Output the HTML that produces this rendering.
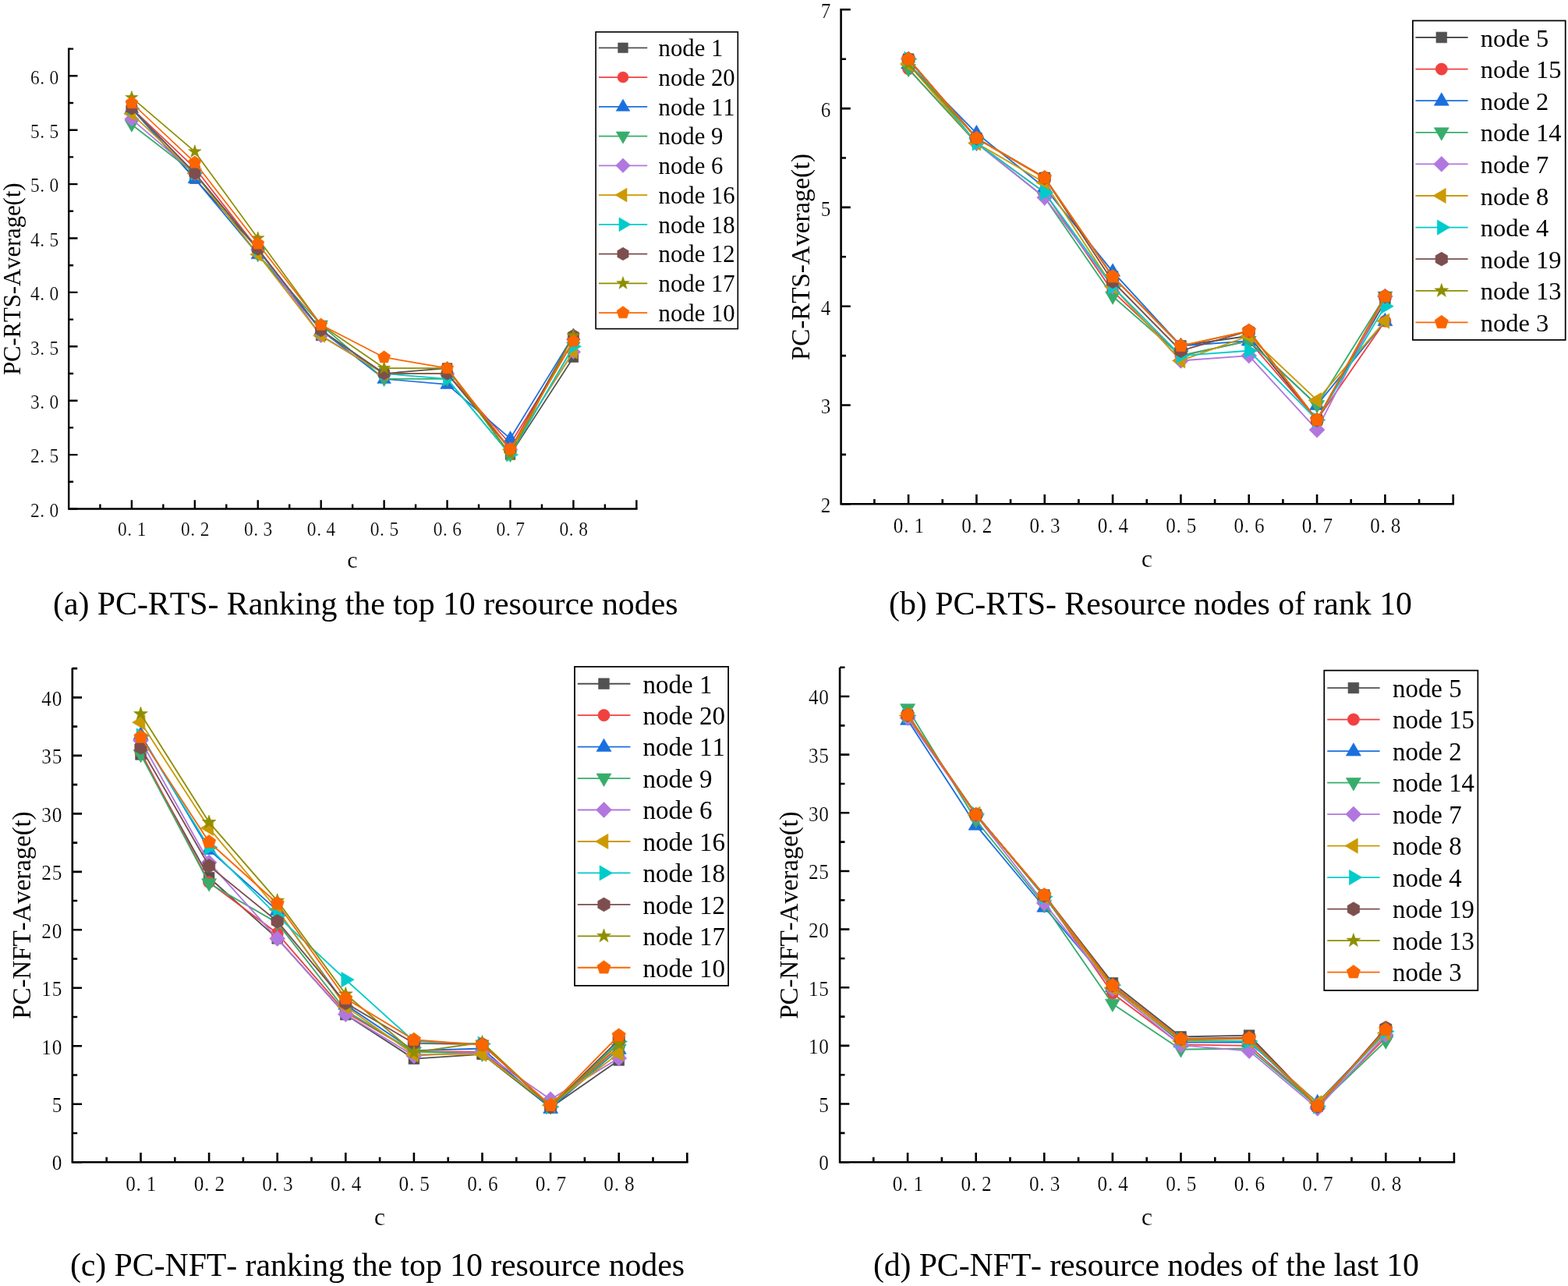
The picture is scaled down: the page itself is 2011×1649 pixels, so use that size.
<!DOCTYPE html>
<html lang="en">
<head>
<meta charset="utf-8">
<title>PC-RTS / PC-NFT average per resource node</title>
<style>
html,body{margin:0;padding:0;background:#fff;}
body{width:2011px;height:1649px;overflow:hidden;}
svg{display:block;}
text{font-family:"Liberation Serif","Times New Roman",serif;fill:#000;font-kerning:none;}
.tk{fill:#000;stroke:#fff;stroke-width:0.22px;}
</style>
</head>
<body>
<svg xmlns="http://www.w3.org/2000/svg" width="2011" height="1649" viewBox="0 0 2011 1649">
<rect width="2011" height="1649" fill="#fff"/>
<g id="panel-a">
<g fill="#515151" stroke="#515151" stroke-width="0.6" stroke-linejoin="round">
<polyline points="168.9,138.94 249.83,229.16 330.76,319.38 411.69,430.42 492.62,479 573.55,472.06 654.48,583.1 735.41,458.18" fill="none" stroke-width="1.71"/>
<rect x="162.57" y="132.61" width="12.65" height="12.65"/>
<rect x="243.5" y="222.83" width="12.65" height="12.65"/>
<rect x="324.43" y="313.05" width="12.65" height="12.65"/>
<rect x="405.36" y="424.09" width="12.65" height="12.65"/>
<rect x="486.29" y="472.67" width="12.65" height="12.65"/>
<rect x="567.22" y="465.73" width="12.65" height="12.65"/>
<rect x="648.15" y="576.77" width="12.65" height="12.65"/>
<rect x="729.08" y="451.85" width="12.65" height="12.65"/>
</g>
<g fill="#F14040" stroke="#F14040" stroke-width="0.6" stroke-linejoin="round">
<polyline points="168.9,138.94 249.83,215.28 330.76,319.38 411.69,423.48 492.62,479 573.55,479 654.48,569.22 735.41,437.36" fill="none" stroke-width="1.71"/>
<circle cx="168.9" cy="138.94" r="7.02"/>
<circle cx="249.83" cy="215.28" r="7.02"/>
<circle cx="330.76" cy="319.38" r="7.02"/>
<circle cx="411.69" cy="423.48" r="7.02"/>
<circle cx="492.62" cy="479" r="7.02"/>
<circle cx="573.55" cy="479" r="7.02"/>
<circle cx="654.48" cy="569.22" r="7.02"/>
<circle cx="735.41" cy="437.36" r="7.02"/>
</g>
<g fill="#1A6FDF" stroke="#1A6FDF" stroke-width="0.6" stroke-linejoin="round">
<polyline points="168.9,138.94 249.83,229.16 330.76,326.32 411.69,423.48 492.62,485.94 573.55,492.88 654.48,562.28 735.41,430.42" fill="none" stroke-width="1.71"/>
<polygon points="168.9,129.34 177.67,144.48 160.13,144.48"/>
<polygon points="249.83,219.56 258.6,234.7 241.06,234.7"/>
<polygon points="330.76,316.72 339.53,331.86 321.99,331.86"/>
<polygon points="411.69,413.88 420.46,429.02 402.92,429.02"/>
<polygon points="492.62,476.34 501.39,491.48 483.85,491.48"/>
<polygon points="573.55,483.28 582.32,498.42 564.78,498.42"/>
<polygon points="654.48,552.68 663.25,567.82 645.71,567.82"/>
<polygon points="735.41,420.82 744.18,435.96 726.64,435.96"/>
</g>
<g fill="#37AD6B" stroke="#37AD6B" stroke-width="0.6" stroke-linejoin="round">
<polyline points="168.9,159.76 249.83,222.22 330.76,326.32 411.69,416.54 492.62,485.94 573.55,485.94 654.48,583.1 735.41,444.3" fill="none" stroke-width="1.71"/>
<polygon points="168.9,169.36 177.67,154.22 160.13,154.22"/>
<polygon points="249.83,231.82 258.6,216.68 241.06,216.68"/>
<polygon points="330.76,335.92 339.53,320.78 321.99,320.78"/>
<polygon points="411.69,426.14 420.46,411 402.92,411"/>
<polygon points="492.62,495.54 501.39,480.4 483.85,480.4"/>
<polygon points="573.55,495.54 582.32,480.4 564.78,480.4"/>
<polygon points="654.48,592.7 663.25,577.56 645.71,577.56"/>
<polygon points="735.41,453.9 744.18,438.76 726.64,438.76"/>
</g>
<g fill="#B177DE" stroke="#B177DE" stroke-width="0.6" stroke-linejoin="round">
<polyline points="168.9,152.82 249.83,222.22 330.76,319.38 411.69,430.42 492.62,479 573.55,479 654.48,576.16 735.41,451.24" fill="none" stroke-width="1.71"/>
<polygon points="168.9,143.58 178.13,152.82 168.9,162.06 159.67,152.82"/>
<polygon points="249.83,212.99 259.06,222.22 249.83,231.46 240.6,222.22"/>
<polygon points="330.76,310.14 340,319.38 330.76,328.61 321.52,319.38"/>
<polygon points="411.69,421.18 420.93,430.42 411.69,439.65 402.46,430.42"/>
<polygon points="492.62,469.76 501.86,479 492.62,488.24 483.38,479"/>
<polygon points="573.55,469.76 582.79,479 573.55,488.24 564.32,479"/>
<polygon points="654.48,566.93 663.72,576.16 654.48,585.4 645.25,576.16"/>
<polygon points="735.41,442 744.64,451.24 735.41,460.47 726.17,451.24"/>
</g>
<g fill="#CC9900" stroke="#CC9900" stroke-width="0.6" stroke-linejoin="round">
<polyline points="168.9,145.88 249.83,222.22 330.76,326.32 411.69,430.42 492.62,479 573.55,479 654.48,576.16 735.41,451.24" fill="none" stroke-width="1.71"/>
<polygon points="158.83,145.88 173.89,137.01 173.89,154.75"/>
<polygon points="239.76,222.22 254.82,213.35 254.82,231.09"/>
<polygon points="320.69,326.32 335.75,317.45 335.75,335.19"/>
<polygon points="401.62,430.42 416.68,421.55 416.68,439.29"/>
<polygon points="482.55,479 497.61,470.13 497.61,487.87"/>
<polygon points="563.48,479 578.54,470.13 578.54,487.87"/>
<polygon points="644.41,576.16 659.47,567.29 659.47,585.03"/>
<polygon points="725.34,451.24 740.4,442.37 740.4,460.11"/>
</g>
<g fill="#00CBCC" stroke="#00CBCC" stroke-width="0.6" stroke-linejoin="round">
<polyline points="168.9,138.94 249.83,222.22 330.76,319.38 411.69,423.48 492.62,479 573.55,485.94 654.48,583.1 735.41,444.3" fill="none" stroke-width="1.71"/>
<polygon points="178.97,138.94 163.91,130.07 163.91,147.81"/>
<polygon points="259.9,222.22 244.84,213.35 244.84,231.09"/>
<polygon points="340.83,319.38 325.77,310.51 325.77,328.25"/>
<polygon points="421.76,423.48 406.7,414.61 406.7,432.35"/>
<polygon points="502.69,479 487.63,470.13 487.63,487.87"/>
<polygon points="583.62,485.94 568.56,477.07 568.56,494.81"/>
<polygon points="664.55,583.1 649.49,574.23 649.49,591.97"/>
<polygon points="745.48,444.3 730.42,435.43 730.42,453.17"/>
</g>
<g fill="#7D4E4E" stroke="#7D4E4E" stroke-width="0.6" stroke-linejoin="round">
<polyline points="168.9,138.94 249.83,222.22 330.76,319.38 411.69,423.48 492.62,479 573.55,479 654.48,576.16 735.41,430.42" fill="none" stroke-width="1.71"/>
<polygon points="168.9,130.72 176.02,134.83 176.02,143.05 168.9,147.16 161.78,143.05 161.78,134.83"/>
<polygon points="249.83,214 256.95,218.11 256.95,226.33 249.83,230.44 242.71,226.33 242.71,218.11"/>
<polygon points="330.76,311.16 337.88,315.27 337.88,323.49 330.76,327.6 323.64,323.49 323.64,315.27"/>
<polygon points="411.69,415.26 418.81,419.37 418.81,427.59 411.69,431.7 404.57,427.59 404.57,419.37"/>
<polygon points="492.62,470.78 499.74,474.89 499.74,483.11 492.62,487.22 485.5,483.11 485.5,474.89"/>
<polygon points="573.55,470.78 580.67,474.89 580.67,483.11 573.55,487.22 566.43,483.11 566.43,474.89"/>
<polygon points="654.48,567.94 661.6,572.05 661.6,580.27 654.48,584.38 647.36,580.27 647.36,572.05"/>
<polygon points="735.41,422.2 742.53,426.31 742.53,434.53 735.41,438.64 728.29,434.53 728.29,426.31"/>
</g>
<g fill="#8E8E00" stroke="#8E8E00" stroke-width="0.6" stroke-linejoin="round">
<polyline points="168.9,125.06 249.83,194.46 330.76,305.5 411.69,416.54 492.62,472.06 573.55,472.06 654.48,583.1 735.41,430.42" fill="none" stroke-width="1.71"/>
<polygon points="168.9,116.47 170.92,122.28 177.07,122.41 172.17,126.12 173.95,132.01 168.9,128.5 163.85,132.01 165.63,126.12 160.73,122.41 166.88,122.28"/>
<polygon points="249.83,185.87 251.85,191.68 258,191.81 253.1,195.52 254.88,201.41 249.83,197.9 244.78,201.41 246.56,195.52 241.66,191.81 247.81,191.68"/>
<polygon points="330.76,296.91 332.78,302.72 338.93,302.85 334.03,306.56 335.81,312.45 330.76,308.94 325.71,312.45 327.49,306.56 322.59,302.85 328.74,302.72"/>
<polygon points="411.69,407.95 413.71,413.76 419.86,413.89 414.96,417.6 416.74,423.49 411.69,419.98 406.64,423.49 408.42,417.6 403.52,413.89 409.67,413.76"/>
<polygon points="492.62,463.47 494.64,469.28 500.79,469.41 495.89,473.12 497.67,479.01 492.62,475.5 487.57,479.01 489.35,473.12 484.45,469.41 490.6,469.28"/>
<polygon points="573.55,463.47 575.57,469.28 581.72,469.41 576.82,473.12 578.6,479.01 573.55,475.5 568.5,479.01 570.28,473.12 565.38,469.41 571.53,469.28"/>
<polygon points="654.48,574.51 656.5,580.32 662.65,580.45 657.75,584.16 659.53,590.05 654.48,586.54 649.43,590.05 651.21,584.16 646.31,580.45 652.46,580.32"/>
<polygon points="735.41,421.83 737.43,427.64 743.58,427.77 738.68,431.48 740.46,437.37 735.41,433.86 730.36,437.37 732.14,431.48 727.24,427.77 733.39,427.64"/>
</g>
<g fill="#FB6501" stroke="#FB6501" stroke-width="0.6" stroke-linejoin="round">
<polyline points="168.9,132 249.83,208.34 330.76,312.44 411.69,416.54 492.62,458.18 573.55,472.06 654.48,576.16 735.41,437.36" fill="none" stroke-width="1.71"/>
<polygon points="168.9,123.6 176.89,129.4 173.84,138.8 163.96,138.8 160.91,129.4"/>
<polygon points="249.83,199.94 257.82,205.74 254.77,215.14 244.89,215.14 241.84,205.74"/>
<polygon points="330.76,304.04 338.75,309.84 335.7,319.24 325.82,319.24 322.77,309.84"/>
<polygon points="411.69,408.14 419.68,413.94 416.63,423.34 406.75,423.34 403.7,413.94"/>
<polygon points="492.62,449.78 500.61,455.58 497.56,464.98 487.68,464.98 484.63,455.58"/>
<polygon points="573.55,463.66 581.54,469.46 578.49,478.86 568.61,478.86 565.56,469.46"/>
<polygon points="654.48,567.76 662.47,573.56 659.42,582.96 649.54,582.96 646.49,573.56"/>
<polygon points="735.41,428.96 743.4,434.76 740.35,444.16 730.47,444.16 727.42,434.76"/>
</g>
<g stroke="#000" stroke-width="2.4" fill="none" stroke-linecap="butt">
<path d="M88.2 61.5V652.5H817.54"/>
<path d="M168.9 652.5v-11.3M249.83 652.5v-11.3M330.76 652.5v-11.3M411.69 652.5v-11.3M492.62 652.5v-11.3M573.55 652.5v-11.3M654.48 652.5v-11.3M735.41 652.5v-11.3M816.34 652.5v-11.3M128.44 652.5v-5.9M209.37 652.5v-5.9M290.3 652.5v-5.9M371.23 652.5v-5.9M452.15 652.5v-5.9M533.09 652.5v-5.9M614.01 652.5v-5.9M694.95 652.5v-5.9M775.88 652.5v-5.9M88.2 652.5h11.3M88.2 583.1h11.3M88.2 513.7h11.3M88.2 444.3h11.3M88.2 374.9h11.3M88.2 305.5h11.3M88.2 236.1h11.3M88.2 166.7h11.3M88.2 97.3h11.3M88.2 617.8h5.9M88.2 548.4h5.9M88.2 479h5.9M88.2 409.6h5.9M88.2 340.2h5.9M88.2 270.8h5.9M88.2 201.4h5.9M88.2 132h5.9M88.2 62.6h5.9"/>
</g>
<text class="tk" transform="scale(0.9 1)" x="167.81 181.53 195.25" y="687" font-size="26">0.1</text>
<text class="tk" transform="scale(0.9 1)" x="257.73 271.45 285.17" y="687" font-size="26">0.2</text>
<text class="tk" transform="scale(0.9 1)" x="347.65 361.37 375.09" y="687" font-size="26">0.3</text>
<text class="tk" transform="scale(0.9 1)" x="437.57 451.29 465.02" y="687" font-size="26">0.4</text>
<text class="tk" transform="scale(0.9 1)" x="527.49 541.22 554.94" y="687" font-size="26">0.5</text>
<text class="tk" transform="scale(0.9 1)" x="617.42 631.14 644.86" y="687" font-size="26">0.6</text>
<text class="tk" transform="scale(0.9 1)" x="707.34 721.06 734.78" y="687" font-size="26">0.7</text>
<text class="tk" transform="scale(0.9 1)" x="797.26 810.98 824.71" y="687" font-size="26">0.8</text>
<text class="tk" transform="scale(0.9 1)" x="43.22 56.94 70.67" y="662.8" font-size="26">2.0</text>
<text class="tk" transform="scale(0.9 1)" x="43.22 56.94 70.67" y="593.4" font-size="26">2.5</text>
<text class="tk" transform="scale(0.9 1)" x="43.22 56.94 70.67" y="524" font-size="26">3.0</text>
<text class="tk" transform="scale(0.9 1)" x="43.22 56.94 70.67" y="454.6" font-size="26">3.5</text>
<text class="tk" transform="scale(0.9 1)" x="43.22 56.94 70.67" y="385.2" font-size="26">4.0</text>
<text class="tk" transform="scale(0.9 1)" x="43.22 56.94 70.67" y="315.8" font-size="26">4.5</text>
<text class="tk" transform="scale(0.9 1)" x="43.22 56.94 70.67" y="246.4" font-size="26">5.0</text>
<text class="tk" transform="scale(0.9 1)" x="43.22 56.94 70.67" y="177" font-size="26">5.5</text>
<text class="tk" transform="scale(0.9 1)" x="43.22 56.94 70.67" y="107.6" font-size="26">6.0</text>
<text class="tk" x="452" y="727.6" font-size="30" text-anchor="middle">c</text>
<text class="tt" transform="translate(26 357.8) rotate(-90)" x="-123.25" font-size="30.9" textLength="246.5" lengthAdjust="spacing">PC-RTS-Average(t)</text>
<rect x="764.1" y="41" width="182.2" height="380.6" fill="#fff" stroke="#000" stroke-width="1.62"/>
<g fill="#515151" stroke="#515151" stroke-width="0.6" stroke-linejoin="round">
<line x1="768" y1="61.3" x2="830.2" y2="61.3" stroke-width="1.71"/>
<rect x="792.67" y="54.97" width="12.65" height="12.65"/>
</g>
<text class="tt" x="844.6" y="72.1" font-size="30.7">node 1</text>
<g fill="#F14040" stroke="#F14040" stroke-width="0.6" stroke-linejoin="round">
<line x1="768" y1="99.05" x2="830.2" y2="99.05" stroke-width="1.71"/>
<circle cx="799" cy="99.05" r="7.02"/>
</g>
<text class="tt" x="844.6" y="109.85" font-size="30.7">node 20</text>
<g fill="#1A6FDF" stroke="#1A6FDF" stroke-width="0.6" stroke-linejoin="round">
<line x1="768" y1="136.8" x2="830.2" y2="136.8" stroke-width="1.71"/>
<polygon points="799,127.2 807.77,142.34 790.23,142.34"/>
</g>
<text class="tt" x="844.6" y="147.6" font-size="30.7">node 11</text>
<g fill="#37AD6B" stroke="#37AD6B" stroke-width="0.6" stroke-linejoin="round">
<line x1="768" y1="174.55" x2="830.2" y2="174.55" stroke-width="1.71"/>
<polygon points="799,184.15 807.77,169.01 790.23,169.01"/>
</g>
<text class="tt" x="844.6" y="185.35" font-size="30.7">node 9</text>
<g fill="#B177DE" stroke="#B177DE" stroke-width="0.6" stroke-linejoin="round">
<line x1="768" y1="212.3" x2="830.2" y2="212.3" stroke-width="1.71"/>
<polygon points="799,203.06 808.24,212.3 799,221.54 789.76,212.3"/>
</g>
<text class="tt" x="844.6" y="223.1" font-size="30.7">node 6</text>
<g fill="#CC9900" stroke="#CC9900" stroke-width="0.6" stroke-linejoin="round">
<line x1="768" y1="250.05" x2="830.2" y2="250.05" stroke-width="1.71"/>
<polygon points="788.93,250.05 803.99,241.18 803.99,258.92"/>
</g>
<text class="tt" x="844.6" y="260.85" font-size="30.7">node 16</text>
<g fill="#00CBCC" stroke="#00CBCC" stroke-width="0.6" stroke-linejoin="round">
<line x1="768" y1="287.8" x2="830.2" y2="287.8" stroke-width="1.71"/>
<polygon points="809.07,287.8 794.01,278.93 794.01,296.67"/>
</g>
<text class="tt" x="844.6" y="298.6" font-size="30.7">node 18</text>
<g fill="#7D4E4E" stroke="#7D4E4E" stroke-width="0.6" stroke-linejoin="round">
<line x1="768" y1="325.55" x2="830.2" y2="325.55" stroke-width="1.71"/>
<polygon points="799,317.33 806.12,321.44 806.12,329.66 799,333.77 791.88,329.66 791.88,321.44"/>
</g>
<text class="tt" x="844.6" y="336.35" font-size="30.7">node 12</text>
<g fill="#8E8E00" stroke="#8E8E00" stroke-width="0.6" stroke-linejoin="round">
<line x1="768" y1="363.3" x2="830.2" y2="363.3" stroke-width="1.71"/>
<polygon points="799,354.71 801.02,360.52 807.17,360.65 802.27,364.36 804.05,370.25 799,366.74 793.95,370.25 795.73,364.36 790.83,360.65 796.98,360.52"/>
</g>
<text class="tt" x="844.6" y="374.1" font-size="30.7">node 17</text>
<g fill="#FB6501" stroke="#FB6501" stroke-width="0.6" stroke-linejoin="round">
<line x1="768" y1="401.05" x2="830.2" y2="401.05" stroke-width="1.71"/>
<polygon points="799,392.65 806.99,398.45 803.94,407.85 794.06,407.85 791.01,398.45"/>
</g>
<text class="tt" x="844.6" y="411.85" font-size="30.7">node 10</text>
<text class="tt" x="68" y="788" font-size="41.9" textLength="801.5" lengthAdjust="spacing">(a) PC-RTS- Ranking the top 10 resource nodes</text>
</g>
<g id="panel-b">
<g fill="#515151" stroke="#515151" stroke-width="0.65" stroke-linejoin="round">
<polyline points="1165.1,75.7 1252.43,177.14 1339.76,227.86 1427.09,354.66 1514.42,443.42 1601.75,430.74 1689.08,538.52 1776.41,386.36" fill="none" stroke-width="1.84"/>
<rect x="1158.27" y="68.87" width="13.65" height="13.65"/>
<rect x="1245.6" y="170.31" width="13.65" height="13.65"/>
<rect x="1332.93" y="221.03" width="13.65" height="13.65"/>
<rect x="1420.26" y="347.83" width="13.65" height="13.65"/>
<rect x="1507.59" y="436.59" width="13.65" height="13.65"/>
<rect x="1594.92" y="423.91" width="13.65" height="13.65"/>
<rect x="1682.25" y="531.69" width="13.65" height="13.65"/>
<rect x="1769.58" y="379.53" width="13.65" height="13.65"/>
</g>
<g fill="#F14040" stroke="#F14040" stroke-width="0.65" stroke-linejoin="round">
<polyline points="1165.1,88.38 1252.43,183.48 1339.76,246.88 1427.09,373.68 1514.42,456.1 1601.75,437.08 1689.08,538.52 1776.41,411.72" fill="none" stroke-width="1.84"/>
<circle cx="1165.1" cy="88.38" r="7.57"/>
<circle cx="1252.43" cy="183.48" r="7.57"/>
<circle cx="1339.76" cy="246.88" r="7.57"/>
<circle cx="1427.09" cy="373.68" r="7.57"/>
<circle cx="1514.42" cy="456.1" r="7.57"/>
<circle cx="1601.75" cy="437.08" r="7.57"/>
<circle cx="1689.08" cy="538.52" r="7.57"/>
<circle cx="1776.41" cy="411.72" r="7.57"/>
</g>
<g fill="#1A6FDF" stroke="#1A6FDF" stroke-width="0.65" stroke-linejoin="round">
<polyline points="1165.1,82.04 1252.43,170.8 1339.76,240.54 1427.09,348.32 1514.42,443.42 1601.75,437.08 1689.08,519.5 1776.41,411.72" fill="none" stroke-width="1.84"/>
<polygon points="1165.1,71.68 1174.57,88.02 1155.63,88.02"/>
<polygon points="1252.43,160.44 1261.9,176.78 1242.96,176.78"/>
<polygon points="1339.76,230.18 1349.23,246.52 1330.29,246.52"/>
<polygon points="1427.09,337.96 1436.56,354.3 1417.62,354.3"/>
<polygon points="1514.42,433.06 1523.89,449.4 1504.95,449.4"/>
<polygon points="1601.75,426.72 1611.22,443.06 1592.28,443.06"/>
<polygon points="1689.08,509.14 1698.55,525.48 1679.61,525.48"/>
<polygon points="1776.41,401.36 1785.88,417.7 1766.94,417.7"/>
</g>
<g fill="#37AD6B" stroke="#37AD6B" stroke-width="0.65" stroke-linejoin="round">
<polyline points="1165.1,88.38 1252.43,183.48 1339.76,253.22 1427.09,380.02 1514.42,456.1 1601.75,437.08 1689.08,519.5 1776.41,380.02" fill="none" stroke-width="1.84"/>
<polygon points="1165.1,98.74 1174.57,82.4 1155.63,82.4"/>
<polygon points="1252.43,193.84 1261.9,177.5 1242.96,177.5"/>
<polygon points="1339.76,263.58 1349.23,247.24 1330.29,247.24"/>
<polygon points="1427.09,390.38 1436.56,374.04 1417.62,374.04"/>
<polygon points="1514.42,466.46 1523.89,450.12 1504.95,450.12"/>
<polygon points="1601.75,447.44 1611.22,431.1 1592.28,431.1"/>
<polygon points="1689.08,529.86 1698.55,513.52 1679.61,513.52"/>
<polygon points="1776.41,390.38 1785.88,374.04 1766.94,374.04"/>
</g>
<g fill="#B177DE" stroke="#B177DE" stroke-width="0.65" stroke-linejoin="round">
<polyline points="1165.1,75.7 1252.43,183.48 1339.76,253.22 1427.09,367.34 1514.42,462.44 1601.75,456.1 1689.08,551.2 1776.41,380.02" fill="none" stroke-width="1.84"/>
<polygon points="1165.1,65.73 1175.07,75.7 1165.1,85.67 1155.13,75.7"/>
<polygon points="1252.43,173.51 1262.4,183.48 1252.43,193.45 1242.46,183.48"/>
<polygon points="1339.76,243.25 1349.73,253.22 1339.76,263.19 1329.79,253.22"/>
<polygon points="1427.09,357.37 1437.06,367.34 1427.09,377.31 1417.12,367.34"/>
<polygon points="1514.42,452.47 1524.39,462.44 1514.42,472.41 1504.45,462.44"/>
<polygon points="1601.75,446.13 1611.72,456.1 1601.75,466.07 1591.78,456.1"/>
<polygon points="1689.08,541.23 1699.05,551.2 1689.08,561.17 1679.11,551.2"/>
<polygon points="1776.41,370.05 1786.38,380.02 1776.41,389.99 1766.44,380.02"/>
</g>
<g fill="#CC9900" stroke="#CC9900" stroke-width="0.65" stroke-linejoin="round">
<polyline points="1165.1,82.04 1252.43,183.48 1339.76,234.2 1427.09,367.34 1514.42,462.44 1601.75,430.74 1689.08,513.16 1776.41,411.72" fill="none" stroke-width="1.84"/>
<polygon points="1154.24,82.04 1170.48,72.47 1170.48,91.61"/>
<polygon points="1241.57,183.48 1257.81,173.91 1257.81,193.05"/>
<polygon points="1328.9,234.2 1345.14,224.63 1345.14,243.77"/>
<polygon points="1416.23,367.34 1432.47,357.77 1432.47,376.91"/>
<polygon points="1503.56,462.44 1519.8,452.87 1519.8,472.01"/>
<polygon points="1590.89,430.74 1607.13,421.17 1607.13,440.31"/>
<polygon points="1678.22,513.16 1694.46,503.59 1694.46,522.73"/>
<polygon points="1765.55,411.72 1781.79,402.15 1781.79,421.29"/>
</g>
<g fill="#00CBCC" stroke="#00CBCC" stroke-width="0.65" stroke-linejoin="round">
<polyline points="1165.1,75.7 1252.43,183.48 1339.76,246.88 1427.09,367.34 1514.42,456.1 1601.75,449.76 1689.08,538.52 1776.41,392.7" fill="none" stroke-width="1.84"/>
<polygon points="1175.96,75.7 1159.72,66.13 1159.72,85.27"/>
<polygon points="1263.29,183.48 1247.05,173.91 1247.05,193.05"/>
<polygon points="1350.62,246.88 1334.38,237.31 1334.38,256.45"/>
<polygon points="1437.95,367.34 1421.71,357.77 1421.71,376.91"/>
<polygon points="1525.28,456.1 1509.04,446.53 1509.04,465.67"/>
<polygon points="1612.61,449.76 1596.37,440.19 1596.37,459.33"/>
<polygon points="1699.94,538.52 1683.7,528.95 1683.7,548.09"/>
<polygon points="1787.27,392.7 1771.03,383.13 1771.03,402.27"/>
</g>
<g fill="#7D4E4E" stroke="#7D4E4E" stroke-width="0.65" stroke-linejoin="round">
<polyline points="1165.1,75.7 1252.43,177.14 1339.76,227.86 1427.09,361 1514.42,449.76 1601.75,424.4 1689.08,538.52 1776.41,380.02" fill="none" stroke-width="1.84"/>
<polygon points="1165.1,66.83 1172.78,71.27 1172.78,80.13 1165.1,84.57 1157.42,80.13 1157.42,71.27"/>
<polygon points="1252.43,168.27 1260.11,172.71 1260.11,181.57 1252.43,186.01 1244.75,181.57 1244.75,172.71"/>
<polygon points="1339.76,218.99 1347.44,223.43 1347.44,232.29 1339.76,236.73 1332.08,232.29 1332.08,223.43"/>
<polygon points="1427.09,352.13 1434.77,356.57 1434.77,365.43 1427.09,369.87 1419.41,365.43 1419.41,356.57"/>
<polygon points="1514.42,440.89 1522.1,445.33 1522.1,454.19 1514.42,458.63 1506.74,454.19 1506.74,445.33"/>
<polygon points="1601.75,415.53 1609.43,419.97 1609.43,428.83 1601.75,433.27 1594.07,428.83 1594.07,419.97"/>
<polygon points="1689.08,529.65 1696.76,534.09 1696.76,542.95 1689.08,547.39 1681.4,542.95 1681.4,534.09"/>
<polygon points="1776.41,371.15 1784.09,375.59 1784.09,384.45 1776.41,388.89 1768.73,384.45 1768.73,375.59"/>
</g>
<g fill="#8E8E00" stroke="#8E8E00" stroke-width="0.65" stroke-linejoin="round">
<polyline points="1165.1,82.04 1252.43,177.14 1339.76,227.86 1427.09,354.66 1514.42,443.42 1601.75,424.4 1689.08,538.52 1776.41,380.02" fill="none" stroke-width="1.84"/>
<polygon points="1165.1,72.77 1167.28,79.04 1173.91,79.18 1168.63,83.19 1170.55,89.54 1165.1,85.75 1159.65,89.54 1161.57,83.19 1156.29,79.18 1162.92,79.04"/>
<polygon points="1252.43,167.87 1254.61,174.14 1261.24,174.28 1255.96,178.29 1257.88,184.64 1252.43,180.85 1246.98,184.64 1248.9,178.29 1243.62,174.28 1250.25,174.14"/>
<polygon points="1339.76,218.59 1341.94,224.86 1348.57,225 1343.29,229.01 1345.21,235.36 1339.76,231.57 1334.31,235.36 1336.23,229.01 1330.95,225 1337.58,224.86"/>
<polygon points="1427.09,345.39 1429.27,351.66 1435.9,351.8 1430.62,355.81 1432.54,362.16 1427.09,358.37 1421.64,362.16 1423.56,355.81 1418.28,351.8 1424.91,351.66"/>
<polygon points="1514.42,434.15 1516.6,440.42 1523.23,440.56 1517.95,444.57 1519.87,450.92 1514.42,447.13 1508.97,450.92 1510.89,444.57 1505.61,440.56 1512.24,440.42"/>
<polygon points="1601.75,415.13 1603.93,421.4 1610.56,421.54 1605.28,425.55 1607.2,431.9 1601.75,428.11 1596.3,431.9 1598.22,425.55 1592.94,421.54 1599.57,421.4"/>
<polygon points="1689.08,529.25 1691.26,535.52 1697.89,535.66 1692.61,539.67 1694.53,546.02 1689.08,542.23 1683.63,546.02 1685.55,539.67 1680.27,535.66 1686.9,535.52"/>
<polygon points="1776.41,370.75 1778.59,377.02 1785.22,377.16 1779.94,381.17 1781.86,387.52 1776.41,383.73 1770.96,387.52 1772.88,381.17 1767.6,377.16 1774.23,377.02"/>
</g>
<g fill="#FB6501" stroke="#FB6501" stroke-width="0.65" stroke-linejoin="round">
<polyline points="1165.1,75.7 1252.43,177.14 1339.76,227.86 1427.09,354.66 1514.42,443.42 1601.75,424.4 1689.08,538.52 1776.41,380.02" fill="none" stroke-width="1.84"/>
<polygon points="1165.1,66.63 1173.73,72.9 1170.43,83.04 1159.77,83.04 1156.47,72.9"/>
<polygon points="1252.43,168.07 1261.06,174.34 1257.76,184.48 1247.1,184.48 1243.8,174.34"/>
<polygon points="1339.76,218.79 1348.39,225.06 1345.09,235.2 1334.43,235.2 1331.13,225.06"/>
<polygon points="1427.09,345.59 1435.72,351.86 1432.42,362 1421.76,362 1418.46,351.86"/>
<polygon points="1514.42,434.35 1523.05,440.62 1519.75,450.76 1509.09,450.76 1505.79,440.62"/>
<polygon points="1601.75,415.33 1610.38,421.6 1607.08,431.74 1596.42,431.74 1593.12,421.6"/>
<polygon points="1689.08,529.45 1697.71,535.72 1694.41,545.86 1683.75,545.86 1680.45,535.72"/>
<polygon points="1776.41,370.95 1785.04,377.22 1781.74,387.36 1771.08,387.36 1767.78,377.22"/>
</g>
<g stroke="#000" stroke-width="2.59" fill="none" stroke-linecap="butt">
<path d="M1078.6 11.1V646.3H1865.04"/>
<path d="M1165.1 646.3v-12.19M1252.43 646.3v-12.19M1339.76 646.3v-12.19M1427.09 646.3v-12.19M1514.42 646.3v-12.19M1601.75 646.3v-12.19M1689.08 646.3v-12.19M1776.41 646.3v-12.19M1863.74 646.3v-12.19M1121.43 646.3v-6.37M1208.76 646.3v-6.37M1296.09 646.3v-6.37M1383.42 646.3v-6.37M1470.75 646.3v-6.37M1558.09 646.3v-6.37M1645.41 646.3v-6.37M1732.74 646.3v-6.37M1820.07 646.3v-6.37M1078.6 646.3h12.19M1078.6 519.5h12.19M1078.6 392.7h12.19M1078.6 265.9h12.19M1078.6 139.1h12.19M1078.6 12.3h12.19M1078.6 582.9h6.37M1078.6 456.1h6.37M1078.6 329.3h6.37M1078.6 202.5h6.37M1078.6 75.7h6.37"/>
</g>
<text class="tk" transform="scale(0.9 1)" x="1273.17 1287.94 1302.72" y="683.1" font-size="28">0.1</text>
<text class="tk" transform="scale(0.9 1)" x="1370.2 1384.98 1399.76" y="683.1" font-size="28">0.2</text>
<text class="tk" transform="scale(0.9 1)" x="1467.23 1482.01 1496.79" y="683.1" font-size="28">0.3</text>
<text class="tk" transform="scale(0.9 1)" x="1564.27 1579.04 1593.82" y="683.1" font-size="28">0.4</text>
<text class="tk" transform="scale(0.9 1)" x="1661.3 1676.08 1690.86" y="683.1" font-size="28">0.5</text>
<text class="tk" transform="scale(0.9 1)" x="1758.33 1773.11 1787.89" y="683.1" font-size="28">0.6</text>
<text class="tk" transform="scale(0.9 1)" x="1855.37 1870.14 1884.92" y="683.1" font-size="28">0.7</text>
<text class="tk" transform="scale(0.9 1)" x="1952.4 1967.18 1981.96" y="683.1" font-size="28">0.8</text>
<text class="tk" transform="scale(0.9 1)" x="1169.67" y="657.2" font-size="28">2</text>
<text class="tk" transform="scale(0.9 1)" x="1169.67" y="530.4" font-size="28">3</text>
<text class="tk" transform="scale(0.9 1)" x="1169.67" y="403.6" font-size="28">4</text>
<text class="tk" transform="scale(0.9 1)" x="1169.67" y="276.8" font-size="28">5</text>
<text class="tk" transform="scale(0.9 1)" x="1169.67" y="150" font-size="28">6</text>
<text class="tk" transform="scale(0.9 1)" x="1169.67" y="23.2" font-size="28">7</text>
<text class="tk" x="1471" y="727.1" font-size="32.4" text-anchor="middle">c</text>
<text class="tt" transform="translate(1038.2 329.5) rotate(-90)" x="-132.5" font-size="33.2" textLength="265" lengthAdjust="spacing">PC-RTS-Average(t)</text>
<rect x="1811.9" y="26.5" width="195.8" height="409.4" fill="#fff" stroke="#000" stroke-width="1.74"/>
<g fill="#515151" stroke="#515151" stroke-width="0.65" stroke-linejoin="round">
<line x1="1815.5" y1="48" x2="1882.6" y2="48" stroke-width="1.84"/>
<rect x="1841.97" y="41.17" width="13.65" height="13.65"/>
</g>
<text class="tt" x="1898.7" y="59.5" font-size="32.5">node 5</text>
<g fill="#F14040" stroke="#F14040" stroke-width="0.65" stroke-linejoin="round">
<line x1="1815.5" y1="88.6" x2="1882.6" y2="88.6" stroke-width="1.84"/>
<circle cx="1848.8" cy="88.6" r="7.57"/>
</g>
<text class="tt" x="1898.7" y="100.1" font-size="32.5">node 15</text>
<g fill="#1A6FDF" stroke="#1A6FDF" stroke-width="0.65" stroke-linejoin="round">
<line x1="1815.5" y1="129.2" x2="1882.6" y2="129.2" stroke-width="1.84"/>
<polygon points="1848.8,118.84 1858.27,135.18 1839.33,135.18"/>
</g>
<text class="tt" x="1898.7" y="140.7" font-size="32.5">node 2</text>
<g fill="#37AD6B" stroke="#37AD6B" stroke-width="0.65" stroke-linejoin="round">
<line x1="1815.5" y1="169.8" x2="1882.6" y2="169.8" stroke-width="1.84"/>
<polygon points="1848.8,180.16 1858.27,163.82 1839.33,163.82"/>
</g>
<text class="tt" x="1898.7" y="181.3" font-size="32.5">node 14</text>
<g fill="#B177DE" stroke="#B177DE" stroke-width="0.65" stroke-linejoin="round">
<line x1="1815.5" y1="210.4" x2="1882.6" y2="210.4" stroke-width="1.84"/>
<polygon points="1848.8,200.43 1858.77,210.4 1848.8,220.37 1838.83,210.4"/>
</g>
<text class="tt" x="1898.7" y="221.9" font-size="32.5">node 7</text>
<g fill="#CC9900" stroke="#CC9900" stroke-width="0.65" stroke-linejoin="round">
<line x1="1815.5" y1="251" x2="1882.6" y2="251" stroke-width="1.84"/>
<polygon points="1837.94,251 1854.18,241.43 1854.18,260.57"/>
</g>
<text class="tt" x="1898.7" y="262.5" font-size="32.5">node 8</text>
<g fill="#00CBCC" stroke="#00CBCC" stroke-width="0.65" stroke-linejoin="round">
<line x1="1815.5" y1="291.6" x2="1882.6" y2="291.6" stroke-width="1.84"/>
<polygon points="1859.66,291.6 1843.42,282.03 1843.42,301.17"/>
</g>
<text class="tt" x="1898.7" y="303.1" font-size="32.5">node 4</text>
<g fill="#7D4E4E" stroke="#7D4E4E" stroke-width="0.65" stroke-linejoin="round">
<line x1="1815.5" y1="332.2" x2="1882.6" y2="332.2" stroke-width="1.84"/>
<polygon points="1848.8,323.33 1856.48,327.77 1856.48,336.63 1848.8,341.07 1841.12,336.63 1841.12,327.77"/>
</g>
<text class="tt" x="1898.7" y="343.7" font-size="32.5">node 19</text>
<g fill="#8E8E00" stroke="#8E8E00" stroke-width="0.65" stroke-linejoin="round">
<line x1="1815.5" y1="372.8" x2="1882.6" y2="372.8" stroke-width="1.84"/>
<polygon points="1848.8,363.53 1850.98,369.8 1857.61,369.94 1852.33,373.95 1854.25,380.3 1848.8,376.51 1843.35,380.3 1845.27,373.95 1839.99,369.94 1846.62,369.8"/>
</g>
<text class="tt" x="1898.7" y="384.3" font-size="32.5">node 13</text>
<g fill="#FB6501" stroke="#FB6501" stroke-width="0.65" stroke-linejoin="round">
<line x1="1815.5" y1="413.4" x2="1882.6" y2="413.4" stroke-width="1.84"/>
<polygon points="1848.8,404.33 1857.43,410.6 1854.13,420.74 1843.47,420.74 1840.17,410.6"/>
</g>
<text class="tt" x="1898.7" y="424.9" font-size="32.5">node 3</text>
<text class="tt" x="1140" y="788" font-size="41.9" textLength="671" lengthAdjust="spacing">(b) PC-RTS- Resource nodes of rank 10</text>
</g>
<g id="panel-c">
<g fill="#515151" stroke="#515151" stroke-width="0.65" stroke-linejoin="round">
<polyline points="180.5,967.39 268.1,1125.27 355.7,1203.32 443.3,1301.03 530.9,1357.63 618.5,1351.83 706.1,1420.19 793.7,1359.42" fill="none" stroke-width="1.85"/>
<rect x="173.65" y="960.54" width="13.7" height="13.7"/>
<rect x="261.25" y="1118.42" width="13.7" height="13.7"/>
<rect x="348.85" y="1196.47" width="13.7" height="13.7"/>
<rect x="436.45" y="1294.18" width="13.7" height="13.7"/>
<rect x="524.05" y="1350.78" width="13.7" height="13.7"/>
<rect x="611.65" y="1344.98" width="13.7" height="13.7"/>
<rect x="699.25" y="1413.34" width="13.7" height="13.7"/>
<rect x="786.85" y="1352.57" width="13.7" height="13.7"/>
</g>
<g fill="#F14040" stroke="#F14040" stroke-width="0.65" stroke-linejoin="round">
<polyline points="180.5,964.41 268.1,1131.23 355.7,1196.77 443.3,1298.05 530.9,1348.7 618.5,1348.7 706.1,1418.7 793.7,1341.99" fill="none" stroke-width="1.85"/>
<circle cx="180.5" cy="964.41" r="7.6"/>
<circle cx="268.1" cy="1131.23" r="7.6"/>
<circle cx="355.7" cy="1196.77" r="7.6"/>
<circle cx="443.3" cy="1298.05" r="7.6"/>
<circle cx="530.9" cy="1348.7" r="7.6"/>
<circle cx="618.5" cy="1348.7" r="7.6"/>
<circle cx="706.1" cy="1418.7" r="7.6"/>
<circle cx="793.7" cy="1341.99" r="7.6"/>
</g>
<g fill="#1A6FDF" stroke="#1A6FDF" stroke-width="0.65" stroke-linejoin="round">
<polyline points="180.5,942.06 268.1,1089.52 355.7,1167.57 443.3,1288.37 530.9,1347.21 618.5,1344.53 706.1,1421.39 793.7,1345.42" fill="none" stroke-width="1.85"/>
<polygon points="180.5,931.66 190,948.06 171,948.06"/>
<polygon points="268.1,1079.12 277.6,1095.52 258.6,1095.52"/>
<polygon points="355.7,1157.17 365.2,1173.57 346.2,1173.57"/>
<polygon points="443.3,1277.97 452.8,1294.37 433.8,1294.37"/>
<polygon points="530.9,1336.81 540.4,1353.21 521.4,1353.21"/>
<polygon points="618.5,1334.13 628,1350.53 609,1350.53"/>
<polygon points="706.1,1410.99 715.6,1427.39 696.6,1427.39"/>
<polygon points="793.7,1335.02 803.2,1351.42 784.2,1351.42"/>
</g>
<g fill="#37AD6B" stroke="#37AD6B" stroke-width="0.65" stroke-linejoin="round">
<polyline points="180.5,967.39 268.1,1132.72 355.7,1183.36 443.3,1295.82 530.9,1348.7 618.5,1351.08 706.1,1418.7 793.7,1345.12" fill="none" stroke-width="1.85"/>
<polygon points="180.5,977.79 190,961.39 171,961.39"/>
<polygon points="268.1,1143.12 277.6,1126.72 258.6,1126.72"/>
<polygon points="355.7,1193.76 365.2,1177.36 346.2,1177.36"/>
<polygon points="443.3,1306.22 452.8,1289.82 433.8,1289.82"/>
<polygon points="530.9,1359.1 540.4,1342.7 521.4,1342.7"/>
<polygon points="618.5,1361.48 628,1345.08 609,1345.08"/>
<polygon points="706.1,1429.1 715.6,1412.7 696.6,1412.7"/>
<polygon points="793.7,1355.52 803.2,1339.12 784.2,1339.12"/>
</g>
<g fill="#B177DE" stroke="#B177DE" stroke-width="0.65" stroke-linejoin="round">
<polyline points="180.5,949.51 268.1,1105.91 355.7,1203.47 443.3,1300.59 530.9,1353.91 618.5,1349 706.1,1409.77 793.7,1356.89" fill="none" stroke-width="1.85"/>
<polygon points="180.5,939.51 190.5,949.51 180.5,959.51 170.5,949.51"/>
<polygon points="268.1,1095.91 278.1,1105.91 268.1,1115.91 258.1,1105.91"/>
<polygon points="355.7,1193.47 365.7,1203.47 355.7,1213.47 345.7,1203.47"/>
<polygon points="443.3,1290.59 453.3,1300.59 443.3,1310.59 433.3,1300.59"/>
<polygon points="530.9,1343.91 540.9,1353.91 530.9,1363.91 520.9,1353.91"/>
<polygon points="618.5,1339 628.5,1349 618.5,1359 608.5,1349"/>
<polygon points="706.1,1399.77 716.1,1409.77 706.1,1419.77 696.1,1409.77"/>
<polygon points="793.7,1346.89 803.7,1356.89 793.7,1366.89 783.7,1356.89"/>
</g>
<g fill="#CC9900" stroke="#CC9900" stroke-width="0.65" stroke-linejoin="round">
<polyline points="180.5,926.28 268.1,1061.82 355.7,1166.23 443.3,1290.61 530.9,1352.12 618.5,1351.68 706.1,1417.21 793.7,1350.63" fill="none" stroke-width="1.85"/>
<polygon points="169.6,926.28 185.9,916.68 185.9,935.88"/>
<polygon points="257.2,1061.82 273.5,1052.22 273.5,1071.42"/>
<polygon points="344.8,1166.23 361.1,1156.63 361.1,1175.83"/>
<polygon points="432.4,1290.61 448.7,1281.01 448.7,1300.21"/>
<polygon points="520,1352.12 536.3,1342.52 536.3,1361.72"/>
<polygon points="607.6,1351.68 623.9,1342.08 623.9,1361.28"/>
<polygon points="695.2,1417.21 711.5,1407.61 711.5,1426.81"/>
<polygon points="782.8,1350.63 799.1,1341.03 799.1,1360.23"/>
</g>
<g fill="#00CBCC" stroke="#00CBCC" stroke-width="0.65" stroke-linejoin="round">
<polyline points="180.5,943.55 268.1,1086.55 355.7,1174.43 443.3,1256.2 530.9,1335.29 618.5,1338.57 706.1,1419.15 793.7,1335.59" fill="none" stroke-width="1.85"/>
<polygon points="191.4,943.55 175.1,933.95 175.1,953.15"/>
<polygon points="279,1086.55 262.7,1076.95 262.7,1096.15"/>
<polygon points="366.6,1174.43 350.3,1164.83 350.3,1184.03"/>
<polygon points="454.2,1256.2 437.9,1246.6 437.9,1265.8"/>
<polygon points="541.8,1335.29 525.5,1325.69 525.5,1344.89"/>
<polygon points="629.4,1338.57 613.1,1328.97 613.1,1348.17"/>
<polygon points="717,1419.15 700.7,1409.55 700.7,1428.75"/>
<polygon points="804.6,1335.59 788.3,1325.99 788.3,1345.19"/>
</g>
<g fill="#7D4E4E" stroke="#7D4E4E" stroke-width="0.65" stroke-linejoin="round">
<polyline points="180.5,958.45 268.1,1110.38 355.7,1181.43 443.3,1286.14 530.9,1337.82 618.5,1339.02 706.1,1419.15 793.7,1333.06" fill="none" stroke-width="1.85"/>
<polygon points="180.5,949.55 188.21,954 188.21,962.9 180.5,967.35 172.79,962.9 172.79,954"/>
<polygon points="268.1,1101.48 275.81,1105.93 275.81,1114.83 268.1,1119.28 260.39,1114.83 260.39,1105.93"/>
<polygon points="355.7,1172.53 363.41,1176.98 363.41,1185.88 355.7,1190.33 347.99,1185.88 347.99,1176.98"/>
<polygon points="443.3,1277.24 451.01,1281.69 451.01,1290.59 443.3,1295.04 435.59,1290.59 435.59,1281.69"/>
<polygon points="530.9,1328.92 538.61,1333.37 538.61,1342.27 530.9,1346.72 523.19,1342.27 523.19,1333.37"/>
<polygon points="618.5,1330.12 626.21,1334.57 626.21,1343.47 618.5,1347.92 610.79,1343.47 610.79,1334.57"/>
<polygon points="706.1,1410.25 713.81,1414.7 713.81,1423.6 706.1,1428.05 698.39,1423.6 698.39,1414.7"/>
<polygon points="793.7,1324.16 801.41,1328.61 801.41,1337.51 793.7,1341.96 785.99,1337.51 785.99,1328.61"/>
</g>
<g fill="#8E8E00" stroke="#8E8E00" stroke-width="0.65" stroke-linejoin="round">
<polyline points="180.5,915.55 268.1,1054.37 355.7,1155.06 443.3,1274.82 530.9,1349.44 618.5,1336.78 706.1,1418.7 793.7,1338.27" fill="none" stroke-width="1.85"/>
<polygon points="180.5,906.25 182.69,912.54 189.34,912.68 184.04,916.7 185.97,923.07 180.5,919.27 175.03,923.07 176.96,916.7 171.66,912.68 178.31,912.54"/>
<polygon points="268.1,1045.07 270.29,1051.36 276.94,1051.5 271.64,1055.52 273.57,1061.9 268.1,1058.09 262.63,1061.9 264.56,1055.52 259.26,1051.5 265.91,1051.36"/>
<polygon points="355.7,1145.76 357.89,1152.05 364.54,1152.19 359.24,1156.21 361.17,1162.59 355.7,1158.78 350.23,1162.59 352.16,1156.21 346.86,1152.19 353.51,1152.05"/>
<polygon points="443.3,1265.52 445.49,1271.81 452.14,1271.94 446.84,1275.97 448.77,1282.34 443.3,1278.54 437.83,1282.34 439.76,1275.97 434.46,1271.94 441.11,1271.81"/>
<polygon points="530.9,1340.14 533.09,1346.43 539.74,1346.57 534.44,1350.59 536.37,1356.97 530.9,1353.16 525.43,1356.97 527.36,1350.59 522.06,1346.57 528.71,1346.43"/>
<polygon points="618.5,1327.48 620.69,1333.77 627.34,1333.91 622.04,1337.93 623.97,1344.31 618.5,1340.5 613.03,1344.31 614.96,1337.93 609.66,1333.91 616.31,1333.77"/>
<polygon points="706.1,1409.4 708.29,1415.69 714.94,1415.83 709.64,1419.85 711.57,1426.23 706.1,1422.42 700.63,1426.23 702.56,1419.85 697.26,1415.83 703.91,1415.69"/>
<polygon points="793.7,1328.97 795.89,1335.26 802.54,1335.4 797.24,1339.42 799.17,1345.79 793.7,1341.99 788.23,1345.79 790.16,1339.42 784.86,1335.4 791.51,1335.26"/>
</g>
<g fill="#FB6501" stroke="#FB6501" stroke-width="0.65" stroke-linejoin="round">
<polyline points="180.5,945.04 268.1,1079.69 355.7,1158.49 443.3,1280.33 530.9,1333.21 618.5,1339.91 706.1,1417.21 793.7,1327.84" fill="none" stroke-width="1.85"/>
<polygon points="180.5,935.94 189.15,942.23 185.85,952.41 175.15,952.41 171.85,942.23"/>
<polygon points="268.1,1070.59 276.75,1076.88 273.45,1087.06 262.75,1087.06 259.45,1076.88"/>
<polygon points="355.7,1149.39 364.35,1155.68 361.05,1165.85 350.35,1165.85 347.05,1155.68"/>
<polygon points="443.3,1271.23 451.95,1277.52 448.65,1287.69 437.95,1287.69 434.65,1277.52"/>
<polygon points="530.9,1324.11 539.55,1330.39 536.25,1340.57 525.55,1340.57 522.25,1330.39"/>
<polygon points="618.5,1330.81 627.15,1337.1 623.85,1347.27 613.15,1347.27 609.85,1337.1"/>
<polygon points="706.1,1408.11 714.75,1414.4 711.45,1424.58 700.75,1424.58 697.45,1414.4"/>
<polygon points="793.7,1318.74 802.35,1325.03 799.05,1335.21 788.35,1335.21 785.05,1325.03"/>
</g>
<g stroke="#000" stroke-width="2.6" fill="none" stroke-linecap="butt">
<path d="M92.8 856.5V1490.2H882.6"/>
<path d="M180.5 1490.2v-12.24M268.1 1490.2v-12.24M355.7 1490.2v-12.24M443.3 1490.2v-12.24M530.9 1490.2v-12.24M618.5 1490.2v-12.24M706.1 1490.2v-12.24M793.7 1490.2v-12.24M881.3 1490.2v-12.24M136.7 1490.2v-6.39M224.3 1490.2v-6.39M311.9 1490.2v-6.39M399.5 1490.2v-6.39M487.1 1490.2v-6.39M574.7 1490.2v-6.39M662.3 1490.2v-6.39M749.9 1490.2v-6.39M837.5 1490.2v-6.39M92.8 1490.2h12.24M92.8 1415.73h12.24M92.8 1341.25h12.24M92.8 1266.78h12.24M92.8 1192.3h12.24M92.8 1117.83h12.24M92.8 1043.35h12.24M92.8 968.88h12.24M92.8 894.4h12.24M92.8 1452.96h6.39M92.8 1378.49h6.39M92.8 1304.01h6.39M92.8 1229.54h6.39M92.8 1155.06h6.39M92.8 1080.59h6.39M92.8 1006.11h6.39M92.8 931.64h6.39M92.8 857.16h6.39"/>
</g>
<text class="tk" transform="scale(0.9 1)" x="179.09 193.92 208.75" y="1526.9" font-size="28.1">0.1</text>
<text class="tk" transform="scale(0.9 1)" x="276.42 291.25 306.09" y="1526.9" font-size="28.1">0.2</text>
<text class="tk" transform="scale(0.9 1)" x="373.75 388.59 403.42" y="1526.9" font-size="28.1">0.3</text>
<text class="tk" transform="scale(0.9 1)" x="471.09 485.92 500.75" y="1526.9" font-size="28.1">0.4</text>
<text class="tk" transform="scale(0.9 1)" x="568.42 583.25 598.09" y="1526.9" font-size="28.1">0.5</text>
<text class="tk" transform="scale(0.9 1)" x="665.75 680.59 695.42" y="1526.9" font-size="28.1">0.6</text>
<text class="tk" transform="scale(0.9 1)" x="763.09 777.92 792.75" y="1526.9" font-size="28.1">0.7</text>
<text class="tk" transform="scale(0.9 1)" x="860.42 875.25 890.09" y="1526.9" font-size="28.1">0.8</text>
<text class="tk" transform="scale(0.9 1)" x="74.06" y="1500.5" font-size="28.1">0</text>
<text class="tk" transform="scale(0.9 1)" x="74.06" y="1426.03" font-size="28.1">5</text>
<text class="tk" transform="scale(0.9 1)" x="59.22 74.06" y="1351.55" font-size="28.1">10</text>
<text class="tk" transform="scale(0.9 1)" x="59.22 74.06" y="1277.08" font-size="28.1">15</text>
<text class="tk" transform="scale(0.9 1)" x="59.22 74.06" y="1202.6" font-size="28.1">20</text>
<text class="tk" transform="scale(0.9 1)" x="59.22 74.06" y="1128.12" font-size="28.1">25</text>
<text class="tk" transform="scale(0.9 1)" x="59.22 74.06" y="1053.65" font-size="28.1">30</text>
<text class="tk" transform="scale(0.9 1)" x="59.22 74.06" y="979.18" font-size="28.1">35</text>
<text class="tk" transform="scale(0.9 1)" x="59.22 74.06" y="904.7" font-size="28.1">40</text>
<text class="tk" x="487" y="1570.7" font-size="32.5" text-anchor="middle">c</text>
<text class="tt" transform="translate(38.5 1173.6) rotate(-90)" x="-133.25" font-size="33.25" textLength="266.5" lengthAdjust="spacing">PC-NFT-Average(t)</text>
<rect x="737" y="854.9" width="197.1" height="409" fill="#fff" stroke="#000" stroke-width="1.75"/>
<g fill="#515151" stroke="#515151" stroke-width="0.65" stroke-linejoin="round">
<line x1="740.8" y1="876.7" x2="808.4" y2="876.7" stroke-width="1.85"/>
<rect x="767.65" y="869.85" width="13.7" height="13.7"/>
</g>
<text class="tt" x="824.4" y="888.5" font-size="33.05">node 1</text>
<g fill="#F14040" stroke="#F14040" stroke-width="0.65" stroke-linejoin="round">
<line x1="740.8" y1="917.15" x2="808.4" y2="917.15" stroke-width="1.85"/>
<circle cx="774.5" cy="917.15" r="7.6"/>
</g>
<text class="tt" x="824.4" y="928.95" font-size="33.05">node 20</text>
<g fill="#1A6FDF" stroke="#1A6FDF" stroke-width="0.65" stroke-linejoin="round">
<line x1="740.8" y1="957.6" x2="808.4" y2="957.6" stroke-width="1.85"/>
<polygon points="774.5,947.2 784,963.6 765,963.6"/>
</g>
<text class="tt" x="824.4" y="969.4" font-size="33.05">node 11</text>
<g fill="#37AD6B" stroke="#37AD6B" stroke-width="0.65" stroke-linejoin="round">
<line x1="740.8" y1="998.05" x2="808.4" y2="998.05" stroke-width="1.85"/>
<polygon points="774.5,1008.45 784,992.05 765,992.05"/>
</g>
<text class="tt" x="824.4" y="1009.85" font-size="33.05">node 9</text>
<g fill="#B177DE" stroke="#B177DE" stroke-width="0.65" stroke-linejoin="round">
<line x1="740.8" y1="1038.5" x2="808.4" y2="1038.5" stroke-width="1.85"/>
<polygon points="774.5,1028.5 784.5,1038.5 774.5,1048.5 764.5,1038.5"/>
</g>
<text class="tt" x="824.4" y="1050.3" font-size="33.05">node 6</text>
<g fill="#CC9900" stroke="#CC9900" stroke-width="0.65" stroke-linejoin="round">
<line x1="740.8" y1="1078.95" x2="808.4" y2="1078.95" stroke-width="1.85"/>
<polygon points="763.6,1078.95 779.9,1069.35 779.9,1088.55"/>
</g>
<text class="tt" x="824.4" y="1090.75" font-size="33.05">node 16</text>
<g fill="#00CBCC" stroke="#00CBCC" stroke-width="0.65" stroke-linejoin="round">
<line x1="740.8" y1="1119.4" x2="808.4" y2="1119.4" stroke-width="1.85"/>
<polygon points="785.4,1119.4 769.1,1109.8 769.1,1129"/>
</g>
<text class="tt" x="824.4" y="1131.2" font-size="33.05">node 18</text>
<g fill="#7D4E4E" stroke="#7D4E4E" stroke-width="0.65" stroke-linejoin="round">
<line x1="740.8" y1="1159.85" x2="808.4" y2="1159.85" stroke-width="1.85"/>
<polygon points="774.5,1150.95 782.21,1155.4 782.21,1164.3 774.5,1168.75 766.79,1164.3 766.79,1155.4"/>
</g>
<text class="tt" x="824.4" y="1171.65" font-size="33.05">node 12</text>
<g fill="#8E8E00" stroke="#8E8E00" stroke-width="0.65" stroke-linejoin="round">
<line x1="740.8" y1="1200.3" x2="808.4" y2="1200.3" stroke-width="1.85"/>
<polygon points="774.5,1191 776.69,1197.29 783.34,1197.43 778.04,1201.45 779.97,1207.82 774.5,1204.02 769.03,1207.82 770.96,1201.45 765.66,1197.43 772.31,1197.29"/>
</g>
<text class="tt" x="824.4" y="1212.1" font-size="33.05">node 17</text>
<g fill="#FB6501" stroke="#FB6501" stroke-width="0.65" stroke-linejoin="round">
<line x1="740.8" y1="1240.75" x2="808.4" y2="1240.75" stroke-width="1.85"/>
<polygon points="774.5,1231.65 783.15,1237.94 779.85,1248.11 769.15,1248.11 765.85,1237.94"/>
</g>
<text class="tt" x="824.4" y="1252.55" font-size="33.05">node 10</text>
<text class="tt" x="90" y="1635.8" font-size="41.9" textLength="788" lengthAdjust="spacing">(c) PC-NFT- ranking the top 10 resource nodes</text>
</g>
<g id="panel-d">
<g fill="#515151" stroke="#515151" stroke-width="0.65" stroke-linejoin="round">
<polyline points="1164.1,916.89 1251.7,1044.54 1339.3,1147.56 1426.9,1260.43 1514.5,1329.4 1602.1,1327.61 1689.7,1418.54 1777.3,1320" fill="none" stroke-width="1.85"/>
<rect x="1157.25" y="910.04" width="13.7" height="13.7"/>
<rect x="1244.85" y="1037.69" width="13.7" height="13.7"/>
<rect x="1332.45" y="1140.71" width="13.7" height="13.7"/>
<rect x="1420.05" y="1253.58" width="13.7" height="13.7"/>
<rect x="1507.65" y="1322.55" width="13.7" height="13.7"/>
<rect x="1595.25" y="1320.76" width="13.7" height="13.7"/>
<rect x="1682.85" y="1411.69" width="13.7" height="13.7"/>
<rect x="1770.45" y="1313.15" width="13.7" height="13.7"/>
</g>
<g fill="#F14040" stroke="#F14040" stroke-width="0.65" stroke-linejoin="round">
<polyline points="1164.1,916.89 1251.7,1044.54 1339.3,1148.3 1426.9,1273.72 1514.5,1339.41 1602.1,1340.9 1689.7,1418.54 1777.3,1330.45" fill="none" stroke-width="1.85"/>
<circle cx="1164.1" cy="916.89" r="7.6"/>
<circle cx="1251.7" cy="1044.54" r="7.6"/>
<circle cx="1339.3" cy="1148.3" r="7.6"/>
<circle cx="1426.9" cy="1273.72" r="7.6"/>
<circle cx="1514.5" cy="1339.41" r="7.6"/>
<circle cx="1602.1" cy="1340.9" r="7.6"/>
<circle cx="1689.7" cy="1418.54" r="7.6"/>
<circle cx="1777.3" cy="1330.45" r="7.6"/>
</g>
<g fill="#1A6FDF" stroke="#1A6FDF" stroke-width="0.65" stroke-linejoin="round">
<polyline points="1164.1,923.31 1251.7,1058.13 1339.3,1163.23 1426.9,1265.5 1514.5,1336.72 1602.1,1336.42 1689.7,1413.76 1777.3,1322.98" fill="none" stroke-width="1.85"/>
<polygon points="1164.1,912.91 1173.6,929.31 1154.6,929.31"/>
<polygon points="1251.7,1047.73 1261.2,1064.13 1242.2,1064.13"/>
<polygon points="1339.3,1152.83 1348.8,1169.23 1329.8,1169.23"/>
<polygon points="1426.9,1255.1 1436.4,1271.5 1417.4,1271.5"/>
<polygon points="1514.5,1326.32 1524,1342.72 1505,1342.72"/>
<polygon points="1602.1,1326.02 1611.6,1342.42 1592.6,1342.42"/>
<polygon points="1689.7,1403.36 1699.2,1419.76 1680.2,1419.76"/>
<polygon points="1777.3,1312.58 1786.8,1328.98 1767.8,1328.98"/>
</g>
<g fill="#37AD6B" stroke="#37AD6B" stroke-width="0.65" stroke-linejoin="round">
<polyline points="1164.1,908.68 1251.7,1051.71 1339.3,1160.25 1426.9,1287.15 1514.5,1345.68 1602.1,1344.48 1689.7,1418.54 1777.3,1334.93" fill="none" stroke-width="1.85"/>
<polygon points="1164.1,919.08 1173.6,902.68 1154.6,902.68"/>
<polygon points="1251.7,1062.11 1261.2,1045.71 1242.2,1045.71"/>
<polygon points="1339.3,1170.65 1348.8,1154.25 1329.8,1154.25"/>
<polygon points="1426.9,1297.55 1436.4,1281.15 1417.4,1281.15"/>
<polygon points="1514.5,1356.08 1524,1339.68 1505,1339.68"/>
<polygon points="1602.1,1354.88 1611.6,1338.48 1592.6,1338.48"/>
<polygon points="1689.7,1428.94 1699.2,1412.54 1680.2,1412.54"/>
<polygon points="1777.3,1345.33 1786.8,1328.93 1767.8,1328.93"/>
</g>
<g fill="#B177DE" stroke="#B177DE" stroke-width="0.65" stroke-linejoin="round">
<polyline points="1164.1,920.62 1251.7,1045.29 1339.3,1158.01 1426.9,1268.04 1514.5,1340.3 1602.1,1347.62 1689.7,1421.22 1777.3,1327.02" fill="none" stroke-width="1.85"/>
<polygon points="1164.1,910.62 1174.1,920.62 1164.1,930.62 1154.1,920.62"/>
<polygon points="1251.7,1035.29 1261.7,1045.29 1251.7,1055.29 1241.7,1045.29"/>
<polygon points="1339.3,1148.01 1349.3,1158.01 1339.3,1168.01 1329.3,1158.01"/>
<polygon points="1426.9,1258.04 1436.9,1268.04 1426.9,1278.04 1416.9,1268.04"/>
<polygon points="1514.5,1330.3 1524.5,1340.3 1514.5,1350.3 1504.5,1340.3"/>
<polygon points="1602.1,1337.62 1612.1,1347.62 1602.1,1357.62 1592.1,1347.62"/>
<polygon points="1689.7,1411.22 1699.7,1421.22 1689.7,1431.22 1679.7,1421.22"/>
<polygon points="1777.3,1317.02 1787.3,1327.02 1777.3,1337.02 1767.3,1327.02"/>
</g>
<g fill="#CC9900" stroke="#CC9900" stroke-width="0.65" stroke-linejoin="round">
<polyline points="1164.1,917.63 1251.7,1043.79 1339.3,1149.8 1426.9,1266.85 1514.5,1334.93 1602.1,1334.93 1689.7,1414.36 1777.3,1324.48" fill="none" stroke-width="1.85"/>
<polygon points="1153.2,917.63 1169.5,908.03 1169.5,927.23"/>
<polygon points="1240.8,1043.79 1257.1,1034.19 1257.1,1053.39"/>
<polygon points="1328.4,1149.8 1344.7,1140.2 1344.7,1159.4"/>
<polygon points="1416,1266.85 1432.3,1257.25 1432.3,1276.45"/>
<polygon points="1503.6,1334.93 1519.9,1325.33 1519.9,1344.53"/>
<polygon points="1591.2,1334.93 1607.5,1325.33 1607.5,1344.53"/>
<polygon points="1678.8,1414.36 1695.1,1404.76 1695.1,1423.96"/>
<polygon points="1766.4,1324.48 1782.7,1314.88 1782.7,1334.08"/>
</g>
<g fill="#00CBCC" stroke="#00CBCC" stroke-width="0.65" stroke-linejoin="round">
<polyline points="1164.1,917.63 1251.7,1043.79 1339.3,1149.8 1426.9,1263.26 1514.5,1333.43 1602.1,1334.93 1689.7,1418.54 1777.3,1322.54" fill="none" stroke-width="1.85"/>
<polygon points="1175,917.63 1158.7,908.03 1158.7,927.23"/>
<polygon points="1262.6,1043.79 1246.3,1034.19 1246.3,1053.39"/>
<polygon points="1350.2,1149.8 1333.9,1140.2 1333.9,1159.4"/>
<polygon points="1437.8,1263.26 1421.5,1253.66 1421.5,1272.86"/>
<polygon points="1525.4,1333.43 1509.1,1323.84 1509.1,1343.03"/>
<polygon points="1613,1334.93 1596.7,1325.33 1596.7,1344.53"/>
<polygon points="1700.6,1418.54 1684.3,1408.94 1684.3,1428.14"/>
<polygon points="1788.2,1322.54 1771.9,1312.94 1771.9,1332.14"/>
</g>
<g fill="#7D4E4E" stroke="#7D4E4E" stroke-width="0.65" stroke-linejoin="round">
<polyline points="1164.1,916.89 1251.7,1044.54 1339.3,1148.3 1426.9,1263.26 1514.5,1331.94 1602.1,1330.45 1689.7,1418.54 1777.3,1318.06" fill="none" stroke-width="1.85"/>
<polygon points="1164.1,907.99 1171.81,912.44 1171.81,921.34 1164.1,925.79 1156.39,921.34 1156.39,912.44"/>
<polygon points="1251.7,1035.64 1259.41,1040.09 1259.41,1048.99 1251.7,1053.44 1243.99,1048.99 1243.99,1040.09"/>
<polygon points="1339.3,1139.4 1347.01,1143.85 1347.01,1152.75 1339.3,1157.2 1331.59,1152.75 1331.59,1143.85"/>
<polygon points="1426.9,1254.36 1434.61,1258.81 1434.61,1267.71 1426.9,1272.16 1419.19,1267.71 1419.19,1258.81"/>
<polygon points="1514.5,1323.04 1522.21,1327.49 1522.21,1336.39 1514.5,1340.84 1506.79,1336.39 1506.79,1327.49"/>
<polygon points="1602.1,1321.55 1609.81,1326 1609.81,1334.9 1602.1,1339.35 1594.39,1334.9 1594.39,1326"/>
<polygon points="1689.7,1409.64 1697.41,1414.09 1697.41,1422.99 1689.7,1427.44 1681.99,1422.99 1681.99,1414.09"/>
<polygon points="1777.3,1309.16 1785.01,1313.61 1785.01,1322.51 1777.3,1326.96 1769.59,1322.51 1769.59,1313.61"/>
</g>
<g fill="#8E8E00" stroke="#8E8E00" stroke-width="0.65" stroke-linejoin="round">
<polyline points="1164.1,916.89 1251.7,1044.54 1339.3,1148.3 1426.9,1263.26 1514.5,1332.69 1602.1,1331.94 1689.7,1418.54 1777.3,1320" fill="none" stroke-width="1.85"/>
<polygon points="1164.1,907.59 1166.29,913.88 1172.94,914.01 1167.64,918.04 1169.57,924.41 1164.1,920.61 1158.63,924.41 1160.56,918.04 1155.26,914.01 1161.91,913.88"/>
<polygon points="1251.7,1035.24 1253.89,1041.53 1260.54,1041.67 1255.24,1045.69 1257.17,1052.06 1251.7,1048.26 1246.23,1052.06 1248.16,1045.69 1242.86,1041.67 1249.51,1041.53"/>
<polygon points="1339.3,1139 1341.49,1145.29 1348.14,1145.43 1342.84,1149.45 1344.77,1155.83 1339.3,1152.02 1333.83,1155.83 1335.76,1149.45 1330.46,1145.43 1337.11,1145.29"/>
<polygon points="1426.9,1253.96 1429.09,1260.25 1435.74,1260.39 1430.44,1264.41 1432.37,1270.79 1426.9,1266.98 1421.43,1270.79 1423.36,1264.41 1418.06,1260.39 1424.71,1260.25"/>
<polygon points="1514.5,1323.39 1516.69,1329.68 1523.34,1329.81 1518.04,1333.84 1519.97,1340.21 1514.5,1336.41 1509.03,1340.21 1510.96,1333.84 1505.66,1329.81 1512.31,1329.68"/>
<polygon points="1602.1,1322.64 1604.29,1328.93 1610.94,1329.07 1605.64,1333.09 1607.57,1339.47 1602.1,1335.66 1596.63,1339.47 1598.56,1333.09 1593.26,1329.07 1599.91,1328.93"/>
<polygon points="1689.7,1409.24 1691.89,1415.53 1698.54,1415.66 1693.24,1419.69 1695.17,1426.06 1689.7,1422.26 1684.23,1426.06 1686.16,1419.69 1680.86,1415.66 1687.51,1415.53"/>
<polygon points="1777.3,1310.7 1779.49,1316.99 1786.14,1317.12 1780.84,1321.15 1782.77,1327.52 1777.3,1323.72 1771.83,1327.52 1773.76,1321.15 1768.46,1317.12 1775.11,1316.99"/>
</g>
<g fill="#FB6501" stroke="#FB6501" stroke-width="0.65" stroke-linejoin="round">
<polyline points="1164.1,916.89 1251.7,1044.69 1339.3,1147.71 1426.9,1263.71 1514.5,1332.24 1602.1,1331.34 1689.7,1418.09 1777.3,1320.3" fill="none" stroke-width="1.85"/>
<polygon points="1164.1,907.79 1172.75,914.08 1169.45,924.25 1158.75,924.25 1155.45,914.08"/>
<polygon points="1251.7,1035.59 1260.35,1041.88 1257.05,1052.05 1246.35,1052.05 1243.05,1041.88"/>
<polygon points="1339.3,1138.61 1347.95,1144.89 1344.65,1155.07 1333.95,1155.07 1330.65,1144.89"/>
<polygon points="1426.9,1254.61 1435.55,1260.9 1432.25,1271.07 1421.55,1271.07 1418.25,1260.9"/>
<polygon points="1514.5,1323.14 1523.15,1329.43 1519.85,1339.6 1509.15,1339.6 1505.85,1329.43"/>
<polygon points="1602.1,1322.24 1610.75,1328.53 1607.45,1338.71 1596.75,1338.71 1593.45,1328.53"/>
<polygon points="1689.7,1408.99 1698.35,1415.28 1695.05,1425.45 1684.35,1425.45 1681.05,1415.28"/>
<polygon points="1777.3,1311.2 1785.95,1317.48 1782.65,1327.66 1771.95,1327.66 1768.65,1317.48"/>
</g>
<g stroke="#000" stroke-width="2.6" fill="none" stroke-linecap="butt">
<path d="M1077.1 856V1490.2H1866.2"/>
<path d="M1164.1 1490.2v-12.24M1251.7 1490.2v-12.24M1339.3 1490.2v-12.24M1426.9 1490.2v-12.24M1514.5 1490.2v-12.24M1602.1 1490.2v-12.24M1689.7 1490.2v-12.24M1777.3 1490.2v-12.24M1864.9 1490.2v-12.24M1120.3 1490.2v-6.39M1207.9 1490.2v-6.39M1295.5 1490.2v-6.39M1383.1 1490.2v-6.39M1470.7 1490.2v-6.39M1558.3 1490.2v-6.39M1645.9 1490.2v-6.39M1733.5 1490.2v-6.39M1821.1 1490.2v-6.39M1077.1 1490.2h12.24M1077.1 1415.55h12.24M1077.1 1340.9h12.24M1077.1 1266.25h12.24M1077.1 1191.6h12.24M1077.1 1116.95h12.24M1077.1 1042.3h12.24M1077.1 967.65h12.24M1077.1 893h12.24M1077.1 1452.88h6.39M1077.1 1378.23h6.39M1077.1 1303.58h6.39M1077.1 1228.93h6.39M1077.1 1154.28h6.39M1077.1 1079.62h6.39M1077.1 1004.98h6.39M1077.1 930.33h6.39M1077.1 855.68h6.39"/>
</g>
<text class="tk" transform="scale(0.9 1)" x="1271.97 1286.81 1301.64" y="1526.9" font-size="28.1">0.1</text>
<text class="tk" transform="scale(0.9 1)" x="1369.31 1384.14 1398.97" y="1526.9" font-size="28.1">0.2</text>
<text class="tk" transform="scale(0.9 1)" x="1466.64 1481.47 1496.31" y="1526.9" font-size="28.1">0.3</text>
<text class="tk" transform="scale(0.9 1)" x="1563.97 1578.81 1593.64" y="1526.9" font-size="28.1">0.4</text>
<text class="tk" transform="scale(0.9 1)" x="1661.31 1676.14 1690.97" y="1526.9" font-size="28.1">0.5</text>
<text class="tk" transform="scale(0.9 1)" x="1758.64 1773.47 1788.31" y="1526.9" font-size="28.1">0.6</text>
<text class="tk" transform="scale(0.9 1)" x="1855.97 1870.81 1885.64" y="1526.9" font-size="28.1">0.7</text>
<text class="tk" transform="scale(0.9 1)" x="1953.31 1968.14 1982.97" y="1526.9" font-size="28.1">0.8</text>
<text class="tk" transform="scale(0.9 1)" x="1166.95" y="1500.5" font-size="28.1">0</text>
<text class="tk" transform="scale(0.9 1)" x="1166.95" y="1425.85" font-size="28.1">5</text>
<text class="tk" transform="scale(0.9 1)" x="1152.11 1166.95" y="1351.2" font-size="28.1">10</text>
<text class="tk" transform="scale(0.9 1)" x="1152.11 1166.95" y="1276.55" font-size="28.1">15</text>
<text class="tk" transform="scale(0.9 1)" x="1152.11 1166.95" y="1201.9" font-size="28.1">20</text>
<text class="tk" transform="scale(0.9 1)" x="1152.11 1166.95" y="1127.25" font-size="28.1">25</text>
<text class="tk" transform="scale(0.9 1)" x="1152.11 1166.95" y="1052.6" font-size="28.1">30</text>
<text class="tk" transform="scale(0.9 1)" x="1152.11 1166.95" y="977.95" font-size="28.1">35</text>
<text class="tk" transform="scale(0.9 1)" x="1152.11 1166.95" y="903.3" font-size="28.1">40</text>
<text class="tk" x="1471" y="1570.7" font-size="32.5" text-anchor="middle">c</text>
<text class="tt" transform="translate(1022.7 1173.6) rotate(-90)" x="-133.25" font-size="33.25" textLength="266.5" lengthAdjust="spacing">PC-NFT-Average(t)</text>
<rect x="1698.3" y="859.7" width="197.1" height="410.3" fill="#fff" stroke="#000" stroke-width="1.75"/>
<g fill="#515151" stroke="#515151" stroke-width="0.65" stroke-linejoin="round">
<line x1="1702.3" y1="882.1" x2="1769.6" y2="882.1" stroke-width="1.85"/>
<rect x="1729.05" y="875.25" width="13.7" height="13.7"/>
</g>
<text class="tt" x="1786" y="893.5" font-size="32.9">node 5</text>
<g fill="#F14040" stroke="#F14040" stroke-width="0.65" stroke-linejoin="round">
<line x1="1702.3" y1="922.6" x2="1769.6" y2="922.6" stroke-width="1.85"/>
<circle cx="1735.9" cy="922.6" r="7.6"/>
</g>
<text class="tt" x="1786" y="934" font-size="32.9">node 15</text>
<g fill="#1A6FDF" stroke="#1A6FDF" stroke-width="0.65" stroke-linejoin="round">
<line x1="1702.3" y1="963.1" x2="1769.6" y2="963.1" stroke-width="1.85"/>
<polygon points="1735.9,952.7 1745.4,969.1 1726.4,969.1"/>
</g>
<text class="tt" x="1786" y="974.5" font-size="32.9">node 2</text>
<g fill="#37AD6B" stroke="#37AD6B" stroke-width="0.65" stroke-linejoin="round">
<line x1="1702.3" y1="1003.6" x2="1769.6" y2="1003.6" stroke-width="1.85"/>
<polygon points="1735.9,1014 1745.4,997.6 1726.4,997.6"/>
</g>
<text class="tt" x="1786" y="1015" font-size="32.9">node 14</text>
<g fill="#B177DE" stroke="#B177DE" stroke-width="0.65" stroke-linejoin="round">
<line x1="1702.3" y1="1044.1" x2="1769.6" y2="1044.1" stroke-width="1.85"/>
<polygon points="1735.9,1034.1 1745.9,1044.1 1735.9,1054.1 1725.9,1044.1"/>
</g>
<text class="tt" x="1786" y="1055.5" font-size="32.9">node 7</text>
<g fill="#CC9900" stroke="#CC9900" stroke-width="0.65" stroke-linejoin="round">
<line x1="1702.3" y1="1084.6" x2="1769.6" y2="1084.6" stroke-width="1.85"/>
<polygon points="1725,1084.6 1741.3,1075 1741.3,1094.2"/>
</g>
<text class="tt" x="1786" y="1096" font-size="32.9">node 8</text>
<g fill="#00CBCC" stroke="#00CBCC" stroke-width="0.65" stroke-linejoin="round">
<line x1="1702.3" y1="1125.1" x2="1769.6" y2="1125.1" stroke-width="1.85"/>
<polygon points="1746.8,1125.1 1730.5,1115.5 1730.5,1134.7"/>
</g>
<text class="tt" x="1786" y="1136.5" font-size="32.9">node 4</text>
<g fill="#7D4E4E" stroke="#7D4E4E" stroke-width="0.65" stroke-linejoin="round">
<line x1="1702.3" y1="1165.6" x2="1769.6" y2="1165.6" stroke-width="1.85"/>
<polygon points="1735.9,1156.7 1743.61,1161.15 1743.61,1170.05 1735.9,1174.5 1728.19,1170.05 1728.19,1161.15"/>
</g>
<text class="tt" x="1786" y="1177" font-size="32.9">node 19</text>
<g fill="#8E8E00" stroke="#8E8E00" stroke-width="0.65" stroke-linejoin="round">
<line x1="1702.3" y1="1206.1" x2="1769.6" y2="1206.1" stroke-width="1.85"/>
<polygon points="1735.9,1196.8 1738.09,1203.09 1744.74,1203.23 1739.44,1207.25 1741.37,1213.62 1735.9,1209.82 1730.43,1213.62 1732.36,1207.25 1727.06,1203.23 1733.71,1203.09"/>
</g>
<text class="tt" x="1786" y="1217.5" font-size="32.9">node 13</text>
<g fill="#FB6501" stroke="#FB6501" stroke-width="0.65" stroke-linejoin="round">
<line x1="1702.3" y1="1246.6" x2="1769.6" y2="1246.6" stroke-width="1.85"/>
<polygon points="1735.9,1237.5 1744.55,1243.79 1741.25,1253.96 1730.55,1253.96 1727.25,1243.79"/>
</g>
<text class="tt" x="1786" y="1258" font-size="32.9">node 3</text>
<text class="tt" x="1120" y="1635.8" font-size="41.9" textLength="700" lengthAdjust="spacing">(d) PC-NFT- resource nodes of the last 10</text>
</g>
</svg>
</body>
</html>
